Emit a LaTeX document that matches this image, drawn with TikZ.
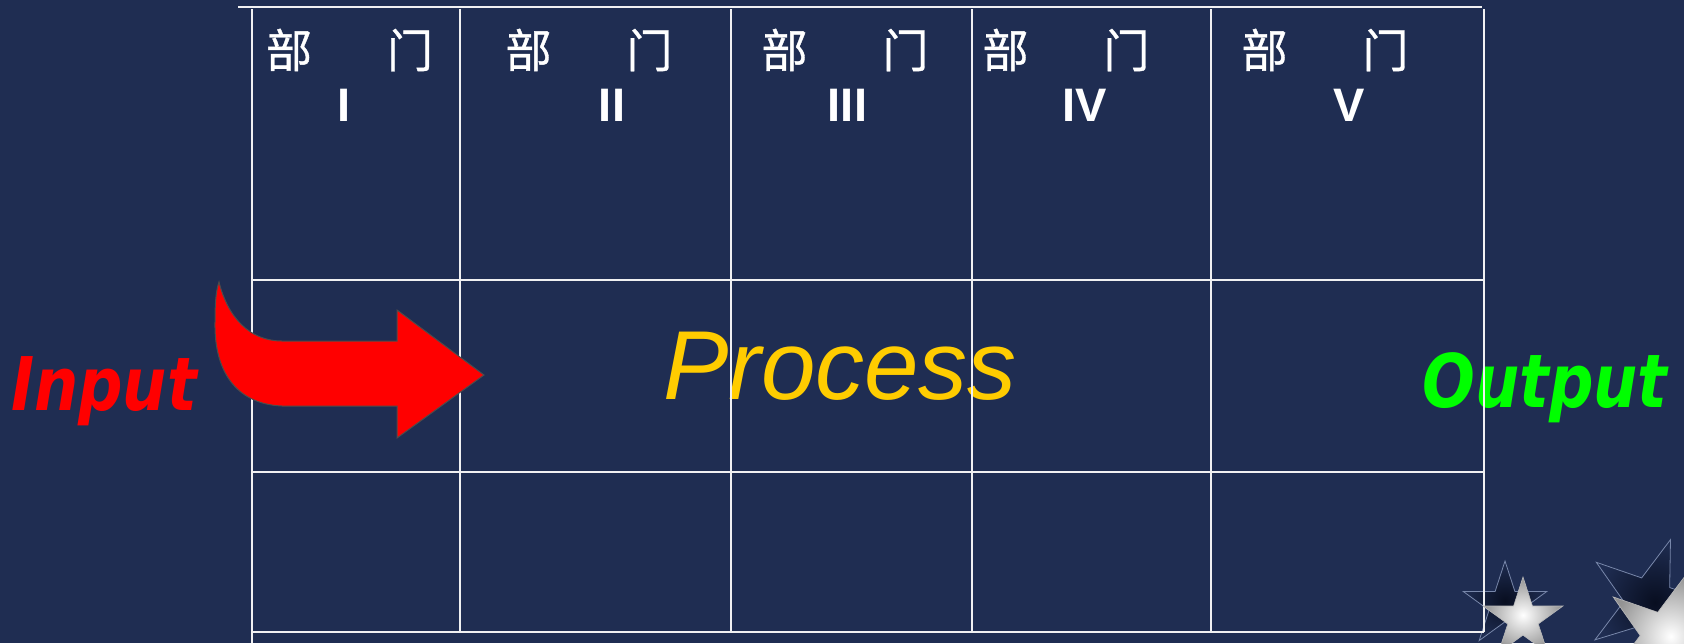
\documentclass[tikz,border=0pt]{standalone}
\usepackage{fontspec}
\usepackage{graphicx}
\setmainfont{Liberation Sans}
\newfontfamily\cjkfont[FakeBold=0.8]{Noto Sans CJK SC}
\newfontfamily\dejavu{DejaVu Sans}
\usetikzlibrary{shapes.geometric}
\definecolor{bgnavy}{RGB}{31,45,82}
\definecolor{procyellow}{RGB}{255,204,0}
\definecolor{outgreen}{RGB}{0,255,0}
\definecolor{gridwhite}{RGB}{240,240,242}
\definecolor{starshadow}{RGB}{8,14,32}
\definecolor{staredge}{RGB}{120,135,170}

\begin{document}
\begin{tikzpicture}[x=1pt,y=-1pt,
  gridline/.style={draw=gridwhite,line width=2.8pt},
  header/.style={text=white,inner sep=0pt,font=\cjkfont\fontsize{46}{50}\selectfont},
  numeral/.style={text=white,inner sep=0pt,anchor=base,font=\bfseries\fontsize{47}{52}\selectfont},
  sidelabel/.style={inner sep=0pt,anchor=base,font=\dejavu\bfseries\itshape\fontsize{74}{80}\selectfont},
  starbase/.style={star,star points=5,star point ratio=2.618,inner sep=0pt},
  silverstar/.style={starbase,shade,inner color=white,outer color=gray!85,draw=gray!55,line width=0.6pt},
  shadowstar/.style={starbase,shade,inner color=starshadow,outer color=bgnavy,draw=staredge,line width=0.8pt}
]
\useasboundingbox (0,0) rectangle (1684,643);
\fill[bgnavy] (0,0) rectangle (1684,643);
\clip (0,0) rectangle (1684,643);

% shadows behind the decorative stars
\node[shadowstar,minimum size=88pt] (shadowA) at (1505,605) {};
\node[shadowstar,minimum size=132pt,rotate=53] (shadowB) at (1649,602) {};

% column headers
\node[header] (h1) at (349.5,50) {部\hspace{75pt}门};
\node[header] (h2) at (589,50) {部\hspace{75pt}门};
\node[header] (h3) at (845,50) {部\hspace{75pt}门};
\node[header] (h4) at (1066,50) {部\hspace{75pt}门};
\node[header] (h5) at (1325,50) {部\hspace{75pt}门};
\node[numeral] (n1) at (344,121) {I};
\node[numeral] (n2) at (612,121) {II};
\node[numeral] (n3) at (847.5,121) {III};
\node[numeral] (n4) at (1085,121) {IV};
\node[numeral] (n5) at (1349.5,121) {V};

% flow labels
\node[anchor=base,inner sep=0pt,text=procyellow,font=\itshape\fontsize{98}{100}\selectfont] (proc) at (840,399) {Process};
\node[sidelabel,text=red] (inp) at (104,410) {\scalebox{0.84}[1]{Input}};
\node[sidelabel,text=outgreen] (outp) at (1545,407) {\scalebox{0.84}[1]{Output}};

% table grid
\draw[gridline] (238,7) -- (1482,7);
\draw[gridline] (252,9) -- (252,643);
\foreach \cx in {460,731,972,1211,1484}
  \draw[gridline] (\cx,9) -- (\cx,632);
\foreach \ry in {280,472,632}
  \draw[gridline] (252,\ry) -- (1484,\ry);

% curved input arrow
\draw[fill=red,draw=black!70,line width=1pt]
  (219,282) .. controls (228,318) and (250,341) .. (282,341)
  -- (397,341) -- (397,310) -- (484,375) -- (397,438) -- (397,406)
  -- (282,406) .. controls (235,404) and (214,370) .. (215,322)
  .. controls (215,302) and (216,291) .. cycle;

% decorative stars
\node[silverstar,minimum size=84pt] (starA) at (1523,619) {};
\node[silverstar,minimum size=130pt,rotate=53] (starB) at (1665,636) {};
\end{tikzpicture}
\end{document}
